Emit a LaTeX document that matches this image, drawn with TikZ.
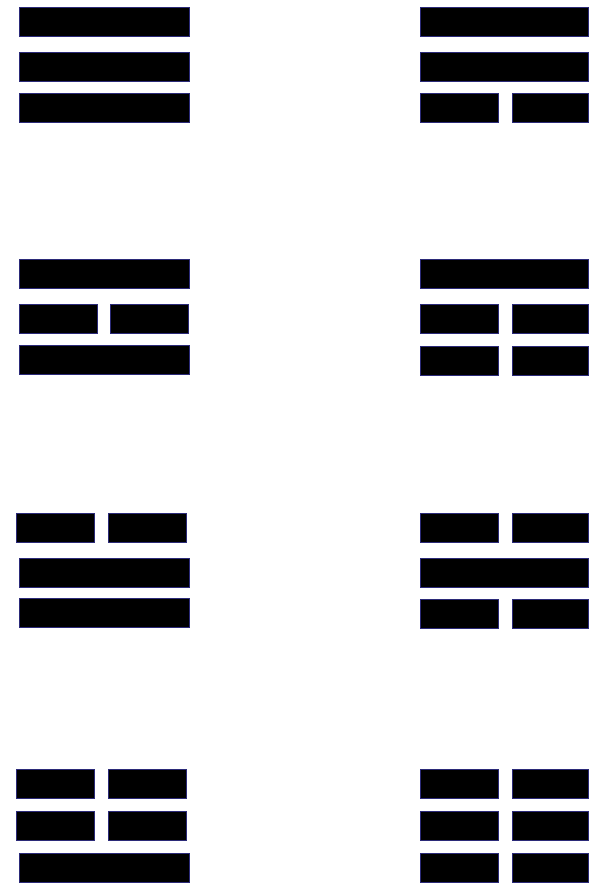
\documentclass[tikz,border=0pt]{standalone}
\usepackage{xcolor}
\usepackage{tikz}
\definecolor{edge}{HTML}{2B2A78}

\begin{document}
\begin{tikzpicture}[
  x=1pt,y=-1pt,
  yang/.style={draw=edge,fill=black,line width=0.5pt,minimum width=170pt,minimum height=29pt,inner sep=0pt,outer sep=0pt,anchor=north west},
  yin/.style={draw=edge,fill=black,line width=0.5pt,minimum width=78pt,minimum height=29pt,inner sep=0pt,outer sep=0pt,anchor=north west},
  short/.style={minimum width=76.4pt},
  long/.style={minimum width=168.4pt}
]
\useasboundingbox (0,0) rectangle (592,890);
% qian
\node[yang] (qian1) at (19.3,7.3) {};
\node[yang] (qian2) at (19.3,52.3) {};
\node[yang] (qian3) at (19.3,93.3) {};
% xun
\node[yang,long] (xun1) at (420.3,7.3) {};
\node[yang,long] (xun2) at (420.3,52.3) {};
\node[yin] (xun3a) at (420.3,93.3) {};
\node[yin,short] (xun3b) at (512.3,93.3) {};
% li
\node[yang] (li1) at (19.3,259.3) {};
\node[yin] (li2a) at (19.3,304) {};
\node[yin] (li2b) at (110.3,304) {};
\node[yang] (li3) at (19.3,345.3) {};
% gen
\node[yang,long] (gen1) at (420.3,259.3) {};
\node[yin] (gen2a) at (420.3,304) {};
\node[yin,short] (gen2b) at (512.3,304) {};
\node[yin] (gen3a) at (420.3,345.8) {};
\node[yin,short] (gen3b) at (512.3,345.8) {};
% dui
\node[yin] (dui1a) at (16.7,513.7) {};
\node[yin] (dui1b) at (108.7,513.7) {};
\node[yang] (dui2) at (19.3,558.3) {};
\node[yang] (dui3) at (19.3,598.7) {};
% kan
\node[yin] (kan1a) at (420.3,513.7) {};
\node[yin,short] (kan1b) at (512.3,513.7) {};
\node[yang,long] (kan2) at (420.3,558.3) {};
\node[yin] (kan3a) at (420.3,599.3) {};
\node[yin,short] (kan3b) at (512.3,599.3) {};
% zhen
\node[yin] (zhen1a) at (16.7,769.3) {};
\node[yin] (zhen1b) at (108.7,769.3) {};
\node[yin] (zhen2a) at (16.7,811.7) {};
\node[yin] (zhen2b) at (108.7,811.7) {};
\node[yang] (zhen3) at (19.3,853.7) {};
% kun
\node[yin] (kun1a) at (420.3,769.3) {};
\node[yin,short] (kun1b) at (512.3,769.3) {};
\node[yin] (kun2a) at (420.3,811.7) {};
\node[yin,short] (kun2b) at (512.3,811.7) {};
\node[yin] (kun3a) at (420.3,853.7) {};
\node[yin,short] (kun3b) at (512.3,853.7) {};
\end{tikzpicture}
\end{document}
